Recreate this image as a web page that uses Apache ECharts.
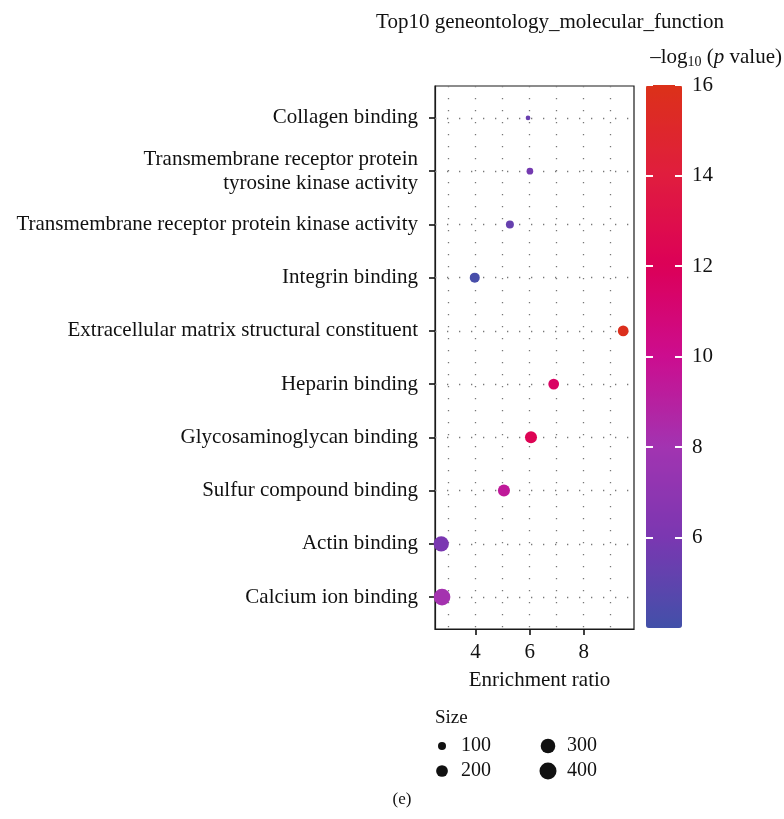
<!DOCTYPE html>
<html>
<head>
<meta charset="utf-8">
<script src="https://cdn.jsdelivr.net/npm/echarts@6/dist/echarts.min.js"></script>
<style>html,body{margin:0;padding:0;background:#fff}#c{width:784px;height:819px}</style>
</head>
<body>
<div id="c"></div>
<script>
const categories = [
  'Collagen binding',
  'Transmembrane receptor protein\ntyrosine kinase activity',
  'Transmembrane receptor protein kinase activity',
  'Integrin binding',
  'Extracellular matrix structural constituent',
  'Heparin binding',
  'Glycosaminoglycan binding',
  'Sulfur compound binding',
  'Actin binding',
  'Calcium ion binding'
];
const enrichmentRatio = [5.94, 6.01, 5.27, 3.97, 9.46, 6.89, 6.05, 5.05, 2.73, 2.76];
const negLog10P = [5.4, 5.8, 5.3, 4.2, 15.8, 11.6, 12.3, 9.4, 6.0, 8.1];
const geneCount = [40, 73, 100, 150, 170, 170, 210, 210, 328, 387];
const xTicks = [4, 6, 8];
const xGrid = [3, 4, 5, 6, 7, 8, 9];
const colorTicks = [6, 8, 10, 12, 14, 16];
const sizeLegend = [100, 200, 300, 400];
const colorStops = ['#4250a9', '#7a37b1', '#a234b1', '#cc0d8f', '#dc0058', '#e01d3e', '#dc3119'];

const FONT = 'Liberation Serif';
const sizeFn = s => 0.9 * Math.sqrt(s) - 1;
const yIdx = categories.map((c, i) => i + 1);

const data = categories.map((c, i) => [enrichmentRatio[i], yIdx[i], negLog10P[i], geneCount[i]]);

const chart = echarts.init(document.getElementById('c'), null, {renderer: 'canvas'});

const gridLine = {color: '#777', width: 1.3, type: [1.3, 10.7]};

// size legend graphics
const legendG = [];
legendG.push({type: 'text', left: 435, top: 709, style: {text: 'Size', font: '19px ' + FONT, fill: '#111'}});
sizeLegend.forEach((v, k) => {
  const col = Math.floor(k / 2), row = k % 2;
  const cx = 442 + col * 106, cy = 746 + row * 25;
  legendG.push({type: 'circle', shape: {cx: cx, cy: cy, r: sizeFn(v) / 2}, style: {fill: '#111'}});
  legendG.push({type: 'text', x: cx + 19, y: cy, style: {text: String(v), font: '20px ' + FONT, fill: '#111', textVerticalAlign: 'middle'}});
});

const whiteTick = {show: true, length: 7, customValues: colorTicks, lineStyle: {color: '#fff', width: 2}};

chart.setOption({
  animation: false,
  backgroundColor: '#fff',
  grid: [
    {left: 435, top: 86, width: 199, height: 543, show: true, borderColor: '#1a1a1a', borderWidth: 1.2, backgroundColor: 'transparent'},
    {left: 646, top: 85, width: 36, height: 543, show: false}
  ],
  xAxis: [
    {
      type: 'value', gridIndex: 0, min: 2.5, max: 9.86,
      name: 'Enrichment ratio', nameLocation: 'middle', nameGap: 41,
      nameTextStyle: {fontFamily: FONT, fontSize: 21, color: '#111', padding: [0, 0, 0, 10]},
      axisLine: {show: true, lineStyle: {color: '#1a1a1a', width: 1.2}},
      axisTick: {show: true, length: 6, customValues: xTicks, lineStyle: {color: '#111', width: 1.6}},
      axisLabel: {customValues: xTicks, margin: 13, fontFamily: FONT, fontSize: 21, color: '#111'},
      splitLine: {show: false}
    },
    {type: 'value', gridIndex: 1, min: 0, max: 1, show: false}
  ],
  yAxis: [
    {
      type: 'value', gridIndex: 0, min: 0.4, max: 10.6, inverse: true,
      axisLine: {show: true, lineStyle: {color: '#1a1a1a', width: 1.2}},
      axisTick: {show: true, length: 6, customValues: yIdx, lineStyle: {color: '#111', width: 1.6}},
      axisLabel: {
        customValues: yIdx, margin: 17, fontFamily: FONT, fontSize: 21, color: '#111',
        lineHeight: 24, align: 'right',
        formatter: v => categories[Math.round(v) - 1] || ''
      },
      splitLine: {show: false}
    },
    {
      type: 'value', gridIndex: 1, min: 4, max: 16, position: 'right', z: 20,
      axisLine: {show: false},
      axisTick: {show: false},
      axisLabel: {customValues: colorTicks, margin: 10, fontFamily: FONT, fontSize: 21, color: '#111'},
      splitLine: {show: false}
    },
    {
      type: 'value', gridIndex: 1, min: 4, max: 16, position: 'left', z: 20,
      axisLine: {show: false},
      axisTick: Object.assign({inside: true}, whiteTick),
      axisLabel: {show: false},
      splitLine: {show: false}
    },
    {
      type: 'value', gridIndex: 1, min: 4, max: 16, position: 'left', offset: -36, z: 20,
      axisLine: {show: false},
      axisTick: Object.assign({inside: false}, whiteTick),
      axisLabel: {show: false},
      splitLine: {show: false}
    }
  ],
  visualMap: {
    type: 'continuous', min: 4, max: 16, dimension: 2, seriesIndex: 0,
    left: 646, top: 85, itemWidth: 36, itemHeight: 543, padding: 0,
    calculable: false, hoverLink: false, realtime: false,
    text: null, showLabel: false,
    inRange: {color: colorStops},
    z: 1, zlevel: 0
  },
  series: [
    {
      type: 'scatter', xAxisIndex: 0, yAxisIndex: 0, z: 5,
      data: data,
      symbolSize: v => sizeFn(v[3]),
      itemStyle: {opacity: 1}
    },
    {
      type: 'scatter', xAxisIndex: 0, yAxisIndex: 0, z: 2, data: [],
      markLine: {
        silent: true, symbol: 'none', label: {show: false}, animation: false,
        lineStyle: gridLine,
        data: xGrid.map(x => ({xAxis: x})).concat(yIdx.map(y => ({yAxis: y})))
      }
    }
  ],
  graphic: [
    {type: 'text', x: 550, y: 22, z: 10, style: {text: 'Top10 geneontology_molecular_function', font: '21px ' + FONT, fill: '#111', textAlign: 'center', textVerticalAlign: 'middle'}},
    {type: 'text', x: 782, y: 57, z: 10, style: {
      text: '{n|\u2013log}{s|10}{n| (}{i|p}{n| value)}',
      textAlign: 'right', textVerticalAlign: 'middle',
      rich: {
        n: {fontFamily: FONT, fontSize: 21, lineHeight: 24, verticalAlign: 'middle', fill: '#111'},
        s: {fontFamily: FONT, fontSize: 14, lineHeight: 13, verticalAlign: 'bottom', fill: '#111'},
        i: {fontFamily: FONT, fontSize: 21, lineHeight: 24, fontStyle: 'italic', verticalAlign: 'middle', fill: '#111'}
      }
    }},
    {type: 'text', x: 402, y: 800, style: {text: '(e)', font: '17px ' + FONT, fill: '#111', textAlign: 'center', textVerticalAlign: 'middle'}}
  ].concat(legendG)
});
</script>
</body>
</html>
